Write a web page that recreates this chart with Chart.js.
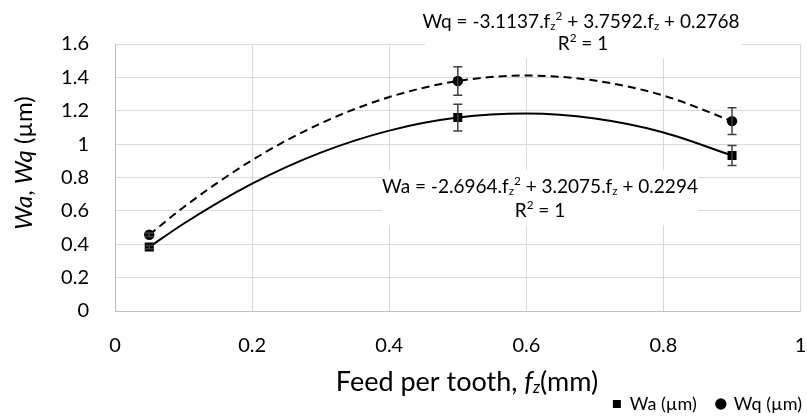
<!DOCTYPE html>
<html>
<head>
<meta charset="utf-8">
<script src="https://cdn.jsdelivr.net/npm/chart.js@4.4.1/dist/chart.umd.min.js"></script>
<style>
  html, body { margin: 0; padding: 0; background: #fff; }
  #wrap { width: 807px; height: 416px; }
</style>
</head>
<body>
<div id="wrap"><canvas id="c" width="807" height="416"></canvas></div>
<script>
// ---- data ----
const feedValues = [0.05, 0.5, 0.9];
const waValues = [0.383, 1.159, 0.932];
const wqValues = [0.457, 1.378, 1.138];
const waErrors = [0.01, 0.08, 0.06];
const wqErrors = [0.01, 0.085, 0.08];

// trendline curves
const trendX  = [0.05, 0.1, 0.2, 0.3, 0.4, 0.5, 0.6, 0.7, 0.8, 0.9];
const waTrend = [0.383, 0.523, 0.763, 0.949, 1.081, 1.159, 1.183, 1.153, 1.070, 0.932];
const wqTrend = [0.457, 0.622, 0.904, 1.124, 1.282, 1.378, 1.411, 1.381, 1.291, 1.138];

const xTickValues = [0, 0.2, 0.4, 0.6, 0.8, 1];
const yTickValues = [0, 0.2, 0.4, 0.6, 0.8, 1, 1.2, 1.4, 1.6];

const seriesNames = ['Wa (\u00b5m)', 'Wq (\u00b5m)'];
const waEquation = [['Wa = -2.6964.f'], ['z', 'sub'], ['2', 'sup'], [' + 3.2075.f'], ['z', 'sub'], [' + 0.2294']];
const wqEquation = [['Wq = -3.1137.f'], ['z', 'sub'], ['2', 'sup'], [' + 3.7592.f'], ['z', 'sub'], [' + 0.2768']];
const r2Text = [['R'], ['2', 'sup'], [' = 1']];
const xTitle = [['Feed per tooth, '], ['f', 'i'], ['z', 'isub'], ['(mm)']];
const yTitle = [['Wa', 'i'], [', '], ['Wq', 'i'], [' (\u00b5m)']];

const FONT = 'Lato';
const PAD_BOTTOM = -7;
const PAD_RIGHT = -15;

function toXY(xs, ys) { return xs.map((x, i) => ({ x: x, y: ys[i] })); }

function fontFor(style, size) {
  const small = style === 'sub' || style === 'sup' || style === 'isub';
  const s = small ? size * 0.62 : size;
  const it = (style === 'i' || style === 'isub') ? 'italic ' : '';
  return it + s + 'px ' + FONT;
}
function offsetFor(style, size) {
  if (style === 'sub' || style === 'isub') return size * 0.22;
  if (style === 'sup') return -size * 0.33;
  return 0;
}
function richWidth(ctx, parts, size) {
  let w = 0;
  parts.forEach(p => { ctx.font = fontFor(p[1], size); w += ctx.measureText(p[0]).width; });
  return w;
}
function drawRich(ctx, parts, cx, cy, size) {
  ctx.save();
  ctx.textBaseline = 'middle';
  ctx.textAlign = 'left';
  ctx.fillStyle = '#000';
  let x = cx - richWidth(ctx, parts, size) / 2;
  parts.forEach(p => {
    ctx.font = fontFor(p[1], size);
    ctx.fillText(p[0], x, cy + offsetFor(p[1], size));
    x += ctx.measureText(p[0]).width;
  });
  ctx.restore();
}

const decorPlugin = {
  id: 'decor',
  beforeDatasetsDraw(chart) {
    const ctx = chart.ctx;
    ctx.save();
    ctx.fillStyle = '#fff';
    ctx.fillRect(425, 0, 317, 58);
    ctx.fillRect(382, 170, 316, 55);
    ctx.restore();
    drawRich(ctx, wqEquation, 581, 22, 19);
    drawRich(ctx, r2Text, 583, 44, 19);
    drawRich(ctx, waEquation, 540, 187, 19);
    drawRich(ctx, r2Text, 540, 211, 19);
  },
  afterDatasetsDraw(chart) {
    const ctx = chart.ctx;
    const xs = chart.scales.x, ys = chart.scales.y;
    ctx.save();
    ctx.strokeStyle = '#404040';
    ctx.lineWidth = 1.5;
    [[waValues, waErrors], [wqValues, wqErrors]].forEach(([vals, errs]) => {
      vals.forEach((v, i) => {
        const px = xs.getPixelForValue(feedValues[i]);
        const top = ys.getPixelForValue(v + errs[i]);
        const bot = ys.getPixelForValue(v - errs[i]);
        ctx.beginPath();
        ctx.moveTo(px, top); ctx.lineTo(px, bot);
        ctx.moveTo(px - 4.5, top); ctx.lineTo(px + 4.5, top);
        ctx.moveTo(px - 4.5, bot); ctx.lineTo(px + 4.5, bot);
        ctx.stroke();
      });
    });
    ctx.restore();
  },
  afterDraw(chart) {
    const ctx = chart.ctx;
    drawRich(ctx, xTitle, 467, 382, 27);
    ctx.save();
    ctx.translate(24, 163);
    ctx.rotate(-Math.PI / 2);
    drawRich(ctx, yTitle, 0, 0, 24);
    ctx.restore();
  }
};

new Chart(document.getElementById('c'), {
  type: 'scatter',
  data: {
    datasets: [
      { label: seriesNames[0], data: toXY(feedValues, waValues), pointStyle: 'rect', pointRadius: 6.4,
        backgroundColor: '#000', borderColor: '#000', borderWidth: 0, showLine: false },
      { label: seriesNames[1], data: toXY(feedValues, wqValues), pointStyle: 'circle', pointRadius: 5.2,
        backgroundColor: '#000', borderColor: '#000', borderWidth: 0, showLine: false },
      { label: 'Wa trend', data: toXY(trendX, waTrend), showLine: true, pointRadius: 0,
        borderColor: '#000', borderWidth: 2, cubicInterpolationMode: 'monotone', fill: false },
      { label: 'Wq trend', data: toXY(trendX, wqTrend), showLine: true, pointRadius: 0,
        borderColor: '#000', borderWidth: 2, borderDash: [8, 5], cubicInterpolationMode: 'monotone', fill: false }
    ]
  },
  options: {
    responsive: false,
    animation: false,
    devicePixelRatio: 1,
    layout: { padding: { top: 44, right: PAD_RIGHT, left: 0, bottom: PAD_BOTTOM } },
    plugins: {
      tooltip: { enabled: false },
      legend: {
        position: 'bottom',
        align: 'end',
        labels: {
          usePointStyle: true, boxWidth: 8, boxHeight: 8, padding: 20,
          color: '#000', font: { family: FONT, size: 18 },
          filter: item => item.datasetIndex < 2
        }
      }
    },
    scales: {
      x: {
        type: 'linear', min: 0, max: 1,
        afterBuildTicks: s => { s.ticks = xTickValues.map(v => ({ value: v })); },
        afterFit: s => { const lh = s.chart.legend ? s.chart.legend.height : 0; s.height = 416 - PAD_BOTTOM - 311 - lh; },
        ticks: { callback: v => String(v), color: '#000', font: { family: FONT, size: 20 }, padding: 0, maxRotation: 0 },
        grid: { color: '#d9d9d9', lineWidth: 1, drawTicks: true, tickLength: 23, tickColor: 'rgba(0,0,0,0)' },
        border: { color: '#bfbfbf', width: 1 }
      },
      y: {
        type: 'linear', min: 0, max: 1.6,
        afterBuildTicks: s => { s.ticks = yTickValues.map(v => ({ value: v })); },
        afterFit: s => { s.width = 115; },
        ticks: { callback: v => String(v), color: '#000', font: { family: FONT, size: 20 }, padding: 4 },
        grid: { color: '#d9d9d9', lineWidth: 1, drawTicks: true, tickLength: 22, tickColor: 'rgba(0,0,0,0)' },
        border: { color: '#bfbfbf', width: 1 }
      }
    }
  },
  plugins: [decorPlugin]
});
</script>
</body>
</html>
